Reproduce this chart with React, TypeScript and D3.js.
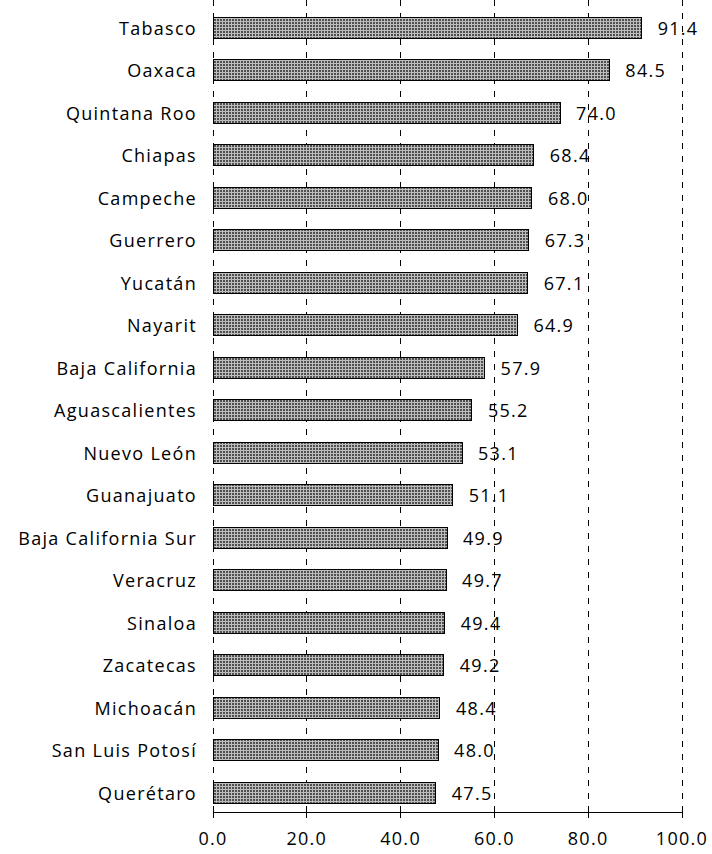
import React from "react";
import * as d3 from "d3";

const categories = ["Tabasco","Oaxaca","Quintana Roo","Chiapas","Campeche","Guerrero","Yucatán","Nayarit","Baja California","Aguascalientes","Nuevo León","Guanajuato","Baja California Sur","Veracruz","Sinaloa","Zacatecas","Michoacán","San Luis Potosí","Querétaro"];
const values = [91.4,84.5,74.0,68.4,68.0,67.3,67.1,64.9,57.9,55.2,53.1,51.1,49.9,49.7,49.4,49.2,48.4,48.0,47.5];
const ticks = [0,20,40,60,80,100];

const W = 712, H = 854;
const left = 213, right = 682, axisY = 812;
const font = "'Open Sans', sans-serif";
const fs = 18;
const ls = 1.3;

export default function App() {
  const x = d3.scaleLinear().domain([0, 100]).range([left, right]);
  const y = d3.scaleBand<string>().domain(categories).range([6.4, 813.9]).paddingInner(0.5).paddingOuter(0.25);
  return (
    <svg width={W} height={H} style={{ position: "absolute", left: 0, top: 0 }}>
      <defs>
        <pattern id="grid" width="3" height="3" patternUnits="userSpaceOnUse">
          <rect width="3" height="3" fill="#505050" />
          <rect width="3" height="1" fill="#bdbdbd" />
          <rect width="1" height="3" fill="#bdbdbd" />
        </pattern>
      </defs>
      <rect width={W} height={H} fill="#fff" />
      {ticks.map(t => (
        <line key={"g" + t} x1={x(t)} x2={x(t)} y1={0} y2={axisY} stroke="#000" strokeWidth={1} strokeDasharray="6,7" shapeRendering="crispEdges" />
      ))}
      {categories.map((c, i) => (
        <g key={c}>
          <rect x={x(0)} y={y(c)} width={x(values[i]) - x(0)} height={y.bandwidth()} fill="url(#grid)" stroke="#000" strokeWidth={1} shapeRendering="crispEdges" />
          <text x={left - 16} y={(y(c) as number) + y.bandwidth() / 2} textAnchor="end" dominantBaseline="central" fontFamily={font} fontSize={fs} letterSpacing={ls} fill="#000">{c}</text>
          <text x={x(values[i]) + 16} y={(y(c) as number) + y.bandwidth() / 2} dominantBaseline="central" fontFamily={font} fontSize={fs} letterSpacing={ls} fill="#000">{values[i].toFixed(1)}</text>
        </g>
      ))}
      <line x1={x(0)} x2={x(100)} y1={axisY} y2={axisY} stroke="#000" strokeWidth={1} shapeRendering="crispEdges" />
      {ticks.map(t => (
        <g key={"t" + t}>
          <line x1={x(t)} x2={x(t)} y1={axisY - 6} y2={axisY + 6} stroke="#000" strokeWidth={1} shapeRendering="crispEdges" />
          <text x={x(t)} y={838} textAnchor="middle" dominantBaseline="central" fontFamily={font} fontSize={fs} letterSpacing={ls} fill="#000">{t.toFixed(1)}</text>
        </g>
      ))}
    </svg>
  );
}
